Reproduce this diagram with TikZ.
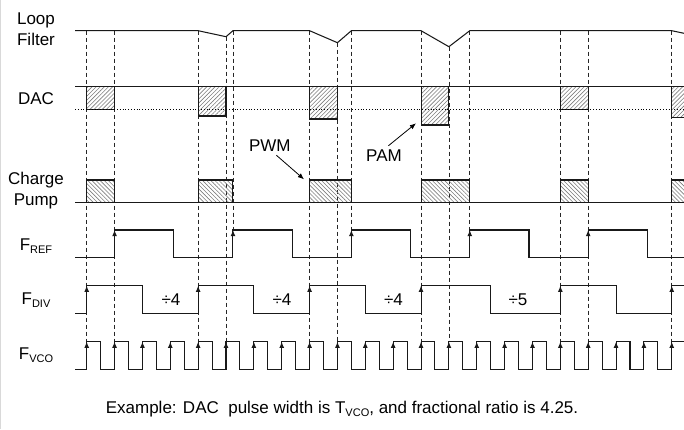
\documentclass[tikz,border=0pt]{standalone}
\usepackage{fontspec}
\setmainfont{Liberation Sans}
\usetikzlibrary{arrows.meta,positioning,calc,patterns.meta}
\definecolor{hatchgray}{RGB}{125,125,125}
\definecolor{wavegray}{RGB}{25,25,25}
\newcommand{\sub}[1]{\raisebox{-3pt}{\fontsize{11}{11}\selectfont #1}}
\newcommand{\tv}[1]{\xo+(#1)*\T}
\def\T{27.86}
\def\xo{86.7}

\begin{document}
\begin{tikzpicture}[x=1pt,y=-1pt,>={Latex[length=6.2pt,width=5pt]},
  font=\fontsize{17}{20.5}\selectfont,
  wave/.style={line width=1.05pt,wavegray},
  guide/.style={dash pattern=on 4pt off 3pt,line width=0.75pt,black!85},
  dachatch/.style={pattern={Lines[angle=45,distance=2.9pt,line width=0.6pt]},pattern color=hatchgray},
  cphatch/.style={pattern={Lines[angle=-45,distance=2.9pt,line width=0.6pt]},pattern color=hatchgray},
  lbl/.style={anchor=base,align=center}]
  \clip (0,0) rectangle (684,429);
  \draw[black!15] (0.5,0) -- (0.5,429);
  \foreach \n/\ya in {0/30.7,1/30.7,4/30.7,5/36.7,8/30.7,9/42.7,12/30.7,13/46.7,17/30.7,18/30.7,21/30.7}
    \draw[guide] ({\tv{\n}},\ya) -- ({\tv{\n}},341.7);
  \foreach \n in {5.25,9.5,13.75}
    \draw[guide] ({\tv{\n}},30.7) -- ({\tv{\n}},230);
  \draw[wave] (75,30.7) -- ({\tv{4}},30.7) -- ({\tv{5}},36.7) -- ({\tv{5.25}},30.7)
    -- ({\tv{8}},30.7) -- ({\tv{9}},42.7) -- ({\tv{9.5}},30.7)
    -- ({\tv{12}},30.7) -- ({\tv{13}},46.7) -- ({\tv{13.75}},30.7)
    -- ({\tv{21}},30.7) -- (684,33.3) -- (690,34.6);
  \foreach \a/\b/\d in {0/1/109.3,4/5/116,8/9/119,12/13/125,17/18/109.3,21/22/117.3}
    \draw[wave,dachatch] ({\tv{\a}},86.7) rectangle ({\tv{\b}},\d);
  \draw[wave] (75,86.7) -- (690,86.7);
  \draw[dotted,line width=0.8pt] (75,109.3) -- (690,109.3);
  \foreach \a/\b in {0/1,4/5.25,8/9.5,12/13.75,17/18,21/22}
    \draw[wave,cphatch] ({\tv{\a}},180) rectangle ({\tv{\b}},202.7);
  \draw[wave] (75,202.7) -- (690,202.7);
  \draw[wave] (75,257.7) \foreach \r in {1,5.25,9.5,13.75,18} {
    -- ({\tv{\r}},257.7) -- ({\tv{\r}},230) -- ({\tv{\r+2.125}},230) -- ({\tv{\r+2.125}},257.7) }
    -- (690,257.7);
  \draw[wave] (75,313.3) \foreach \r/\f in {0/2,4/6,8/10,12/14.5,17/19} {
    -- ({\tv{\r}},313.3) -- ({\tv{\r}},285.7) -- ({\tv{\f}},285.7) -- ({\tv{\f}},313.3) }
    -- ({\tv{21}},313.3) -- ({\tv{21}},285.7) -- (690,285.7);
  \draw[wave] (75,369.3) \foreach \n in {0,...,21} {
    -- ({\tv{\n}},369.3) -- ({\tv{\n}},341.7) -- ({\tv{\n+0.5}},341.7) -- ({\tv{\n+0.5}},369.3) };
  \foreach \n in {1,5.25,9.5,13.75,18}
    \draw[->,wave] ({\tv{\n}},241) -- ({\tv{\n}},230);
  \foreach \n in {0,4,8,12,17,21}
    \draw[->,wave] ({\tv{\n}},297) -- ({\tv{\n}},285.7);
  \foreach \n in {0,...,21}
    \draw[->,wave] ({\tv{\n}},353) -- ({\tv{\n}},341.7);
  \node[lbl] (lf) at (36,45) {Loop\\Filter};
  \node[anchor=base] (dac) at (36,104) {DAC};
  \node[lbl] (cp) at (36,205) {Charge\\Pump};
  \node[anchor=base] (fref) at (36,250) {F\sub{REF}};
  \node[anchor=base] (fdiv) at (36,304) {F\sub{DIV}};
  \node[anchor=base] (fvco) at (36,359.3) {F\sub{VCO}};
  \node[anchor=base] (div1) at (171,305) {÷4};
  \node[anchor=base] (div2) at (282,305) {÷4};
  \node[anchor=base] (div3) at (393.5,305) {÷4};
  \node[anchor=base] (div4) at (518,305) {÷5};
  \node[anchor=base] (pwm) at (269.8,151.7) {PWM};
  \node[anchor=base] (pam) at (384,161) {PAM};
  \coordinate (pwmtip) at (304,179.3);
  \coordinate (pamtip) at (416,123.3);
  \draw[->,line width=0.8pt] (pwm.-55) -- (pwmtip);
  \draw[->,line width=0.8pt] (pam.65) -- (pamtip);
  \node[anchor=base] (note) at (342,413) {Example: DAC\ \ pulse width is T\sub{VCO}, and fractional ratio is 4.25.};
\end{tikzpicture}
\end{document}
